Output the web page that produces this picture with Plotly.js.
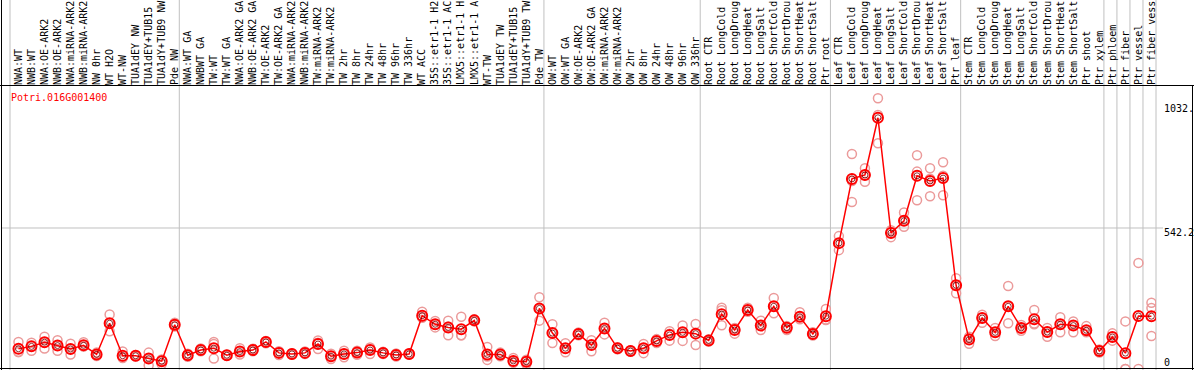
<!DOCTYPE html>
<html>
<head>
<meta charset="utf-8">
<script src="https://cdn.plot.ly/plotly-3.0.1.min.js"></script>
<style>
  html, body { margin: 0; padding: 0; background: #ffffff; }
  #chart { width: 1194px; height: 370px; }
</style>
</head>
<body>
<div id="chart"></div>
<script>
// ---------- data ----------
const geneId = "Potri.016G001400";

const categories = [
  "NWA:WT","NWB:WT","NWA:OE-ARK2","NWB:OE-ARK2","NWA:miRNA-ARK2","NWB:miRNA-ARK2","NW 0hr","WT H2O","WT-NW","TUA1dEY NW","TUA1dEY+TUB15","TUA1dY+TUB9 NW","Pde NW",
  "NWA:WT GA","NWBWT GA","TW:WT","TW:WT GA","NWA:OE-ARK2 GA","NWB:OE-ARK2 GA","TW:OE-ARK2","TW:OE-ARK2 GA","NWA:miRNA-ARK2","NWB:miRNA-ARK2","TW:miRNA-ARK2","TW:miRNA-ARK2","TW 2hr","TW 8hr","TW 24hr","TW 48hr","TW 96hr","TW 336hr","WT ACC","35S::etr1-1 H2","35S::etr1-1 AC","LMX5::etr1-1 H","LMX5::etr1-1 A","WT-TW","TUA1dEY TW","TUA1dEY+TUB15","TUA1dY+TUB9 TW","Pde TW",
  "OW:WT","OW:WT GA","OW:OE-ARK2","OW:OE-ARK2 GA","OW:miRNA-ARK2","OW:miRNA-ARK2","OW 2hr","OW 8hr","OW 24hr","OW 48hr","OW 96hr","OW 336hr",
  "Root CTR","Root LongCold","Root LongDroug","Root LongHeat","Root LongSalt","Root ShortCold","Root ShortDrou","Root ShortHeat","Root ShortSalt","Ptr root",
  "Leaf CTR","Leaf LongCold","Leaf LongDroug","Leaf LongHeat","Leaf LongSalt","Leaf ShortCold","Leaf ShortDrou","Leaf ShortHeat","Leaf ShortSalt","Ptr leaf",
  "Stem CTR","Stem LongCold","Stem LongDroug","Stem LongHeat","Stem LongSalt","Stem ShortCold","Stem ShortDrou","Stem ShortHeat","Stem ShortSalt","Ptr shoot","Ptr xylem",
  "Ptr phloem","Ptr fiber","Ptr vessel","Ptr fiber vess"
];

// number of categories in each separated group
const groupSizes = [13, 28, 12, 10, 10, 11, 1, 1, 1, 1];

// mean expression
const meanValues = [
  78, 87, 103, 90, 77, 91, 56, 176, 51, 51, 40, 30, 170,
  53, 73, 80, 53, 67, 73, 104, 62, 58, 62, 96, 49, 58, 63, 73, 62, 54, 58, 205, 172, 160, 153, 187, 56, 56, 31, 28, 233,
  138, 80, 135, 92, 156, 80, 69, 80, 108, 131, 141, 136,
  110, 211, 150, 227, 167, 241, 159, 201, 135, 203,
  484, 731, 746, 966, 523, 570, 743, 723, 734, 322,
  113, 196, 141, 241, 158, 191, 142, 172, 167, 149, 69,
  123, 61, 204, 203
];

// individual replicates
const replicate1 = [
  104, 101, 124, 111, 97, 103, 63, 210, 67, 54, 63, 37, 178,
  59, 79, 104, 55, 80, 78, 108, 68, 61, 67, 110, 59, 70, 70, 83, 66, 60, 60, 220, 185, 186, 201, 191, 85, 63, 42, 36, 276,
  172, 99, 140, 111, 178, 84, 72, 96, 115, 145, 167, 173,
  114, 236, 158, 236, 186, 273, 165, 218, 141, 231,
  511, 827, 772, 1041, 534, 602, 822, 772, 795, 349,
  124, 209, 158, 319, 169, 227, 158, 199, 183, 165, 75,
  137, 183, 408, 255
];
const replicate2 = [
  65, 87, 103, 90, 77, 91, 56, 176, 46, 51, 40, 33, 170,
  53, 73, 96, 53, 67, 73, 104, 64, 58, 62, 101, 49, 58, 63, 76, 62, 52, 58, 200, 171, 163, 130, 187, 48, 56, 28, 30, 233,
  138, 80, 135, 92, 156, 80, 69, 80, 108, 136, 141, 136,
  110, 226, 155, 227, 167, 241, 162, 201, 135, 190,
  484, 723, 746, 977, 528, 570, 759, 732, 743, 322,
  118, 196, 141, 241, 158, 175, 142, 172, 167, 149, 69,
  123, 0, 0, 235
];
const replicate3 = [
  65, 70, 79, 70, 56, 86, 50, 145, 42, 48, 14, 18, 163,
  47, 68, 40, 51, 56, 68, 99, 54, 55, 58, 77, 38, 45, 55, 58, 58, 48, 56, 197, 160, 130, 130, 183, 35, 49, 24, 18, 186,
  100, 64, 130, 68, 133, 76, 66, 61, 100, 109, 108, 92,
  106, 168, 136, 220, 150, 214, 150, 191, 129, 188,
  457, 642, 720, 868, 507, 547, 649, 664, 668, 291,
  97, 178, 127, 176, 147, 172, 124, 141, 141, 141, 63,
  109, 0, null, 127
];

const yTickValues = [1032, 542.2, 0];
const yTickText = ["1032.", "542.2", "0"];

// ---------- layout geometry ----------
const W = 1194, H = 370;
const M = { l: 10, r: 38, t: 86, b: 1 };
const plotW = W - M.l - M.r;      // 1146
const plotH = H - M.t - M.b;      // 283
const N = categories.length;       // 88
const xShift = 0.15;               // markers sit slightly right of cell centre
const yMax = 1088.2;

const px2paperX = p => (p - M.l) / plotW;
const py2paperY = p => (H - M.b - p) / plotH;

const idx = categories.map((_, i) => i);

// replicate points
const repX = [], repY = [];
[replicate1, replicate2, replicate3].forEach(arr => {
  arr.forEach((v, i) => { if (v !== null && v !== undefined) { repX.push(i); repY.push(v); } });
});

const traces = [
  {
    x: repX, y: repY, type: 'scatter', mode: 'markers',
    marker: { symbol: 'circle-open', size: 9, color: '#eb9a9a', line: { width: 1.5 } },
    hoverinfo: 'skip', showlegend: false
  },
  {
    x: idx, y: meanValues, type: 'scatter', mode: 'lines+markers',
    line: { color: '#ff0000', width: 1.5 },
    marker: { symbol: 'circle-open', size: 10, color: '#ff0000', line: { width: 2 } },
    showlegend: false
  },
  {
    x: idx, y: meanValues, type: 'scatter', mode: 'markers',
    marker: { symbol: 'circle-open', size: 6, color: '#700000', line: { width: 0.8 } },
    hoverinfo: 'skip', showlegend: false
  }
];

// group separators
const shapes = [];
let k = 0;
const bounds = [0];
groupSizes.forEach(s => { k += s; bounds.push(k); });
bounds.forEach(b => {
  shapes.push({ type: 'line', xref: 'paper', yref: 'paper',
    x0: b / N, x1: b / N, y0: py2paperY(H + 2), y1: py2paperY(-2),
    line: { color: '#c0c0c0', width: 1 }, layer: 'below' });
});
// horizontal grid line at the middle tick
shapes.push({ type: 'line', xref: 'paper', yref: 'y',
  x0: px2paperX(1), x1: px2paperX(1163), y0: yTickValues[1], y1: yTickValues[1],
  line: { color: '#c0c0c0', width: 1 }, layer: 'below' });
// black frame lines
const black = { color: '#000000', width: 1 };
shapes.push({ type: 'line', xref: 'paper', yref: 'paper',
  x0: px2paperX(0), x1: px2paperX(W), y0: py2paperY(85.5), y1: py2paperY(85.5), line: black });
shapes.push({ type: 'line', xref: 'paper', yref: 'paper',
  x0: px2paperX(0), x1: px2paperX(W), y0: py2paperY(368.5), y1: py2paperY(368.5), line: black });
shapes.push({ type: 'line', xref: 'paper', yref: 'paper',
  x0: px2paperX(1.5), x1: px2paperX(1.5), y0: py2paperY(H), y1: py2paperY(0), line: black });
shapes.push({ type: 'line', xref: 'paper', yref: 'paper',
  x0: px2paperX(1192.5), x1: px2paperX(1192.5), y0: py2paperY(H), y1: py2paperY(85.5), line: black });

const monoFont = { family: '"DejaVu Sans Mono", "Liberation Mono", monospace', size: 10, color: '#000000' };

// y value labels on the right
const labelCentersPx = [108.5, 232, 362];
const annotations = yTickText.map((t, j) => ({
  xref: 'paper', yref: 'paper', x: px2paperX(1162), y: py2paperY(labelCentersPx[j]),
  xanchor: 'left', yanchor: 'middle', text: t, showarrow: false, font: monoFont
}));
annotations.push({
  xref: 'paper', yref: 'paper', x: px2paperX(9), y: py2paperY(97),
  xanchor: 'left', yanchor: 'middle', text: geneId, showarrow: false,
  font: Object.assign({}, monoFont, { color: '#ff0000' })
});

const layout = {
  width: W, height: H,
  margin: { l: M.l, r: M.r, t: M.t, b: M.b, pad: 0 },
  paper_bgcolor: '#ffffff', plot_bgcolor: '#ffffff',
  showlegend: false,
  xaxis: {
    range: [-0.5 - xShift, N - 0.5 - xShift],
    tickmode: 'array', tickvals: idx, ticktext: categories,
    side: 'top', tickangle: -90, ticks: '', showgrid: false, zeroline: false, showline: false,
    tickfont: monoFont, automargin: false, fixedrange: true
  },
  yaxis: {
    range: [0, yMax], visible: false, showgrid: false, zeroline: false, fixedrange: true
  },
  shapes: shapes,
  annotations: annotations
};

Plotly.newPlot('chart', traces, layout, { displayModeBar: false, staticPlot: true });
</script>
</body>
</html>
